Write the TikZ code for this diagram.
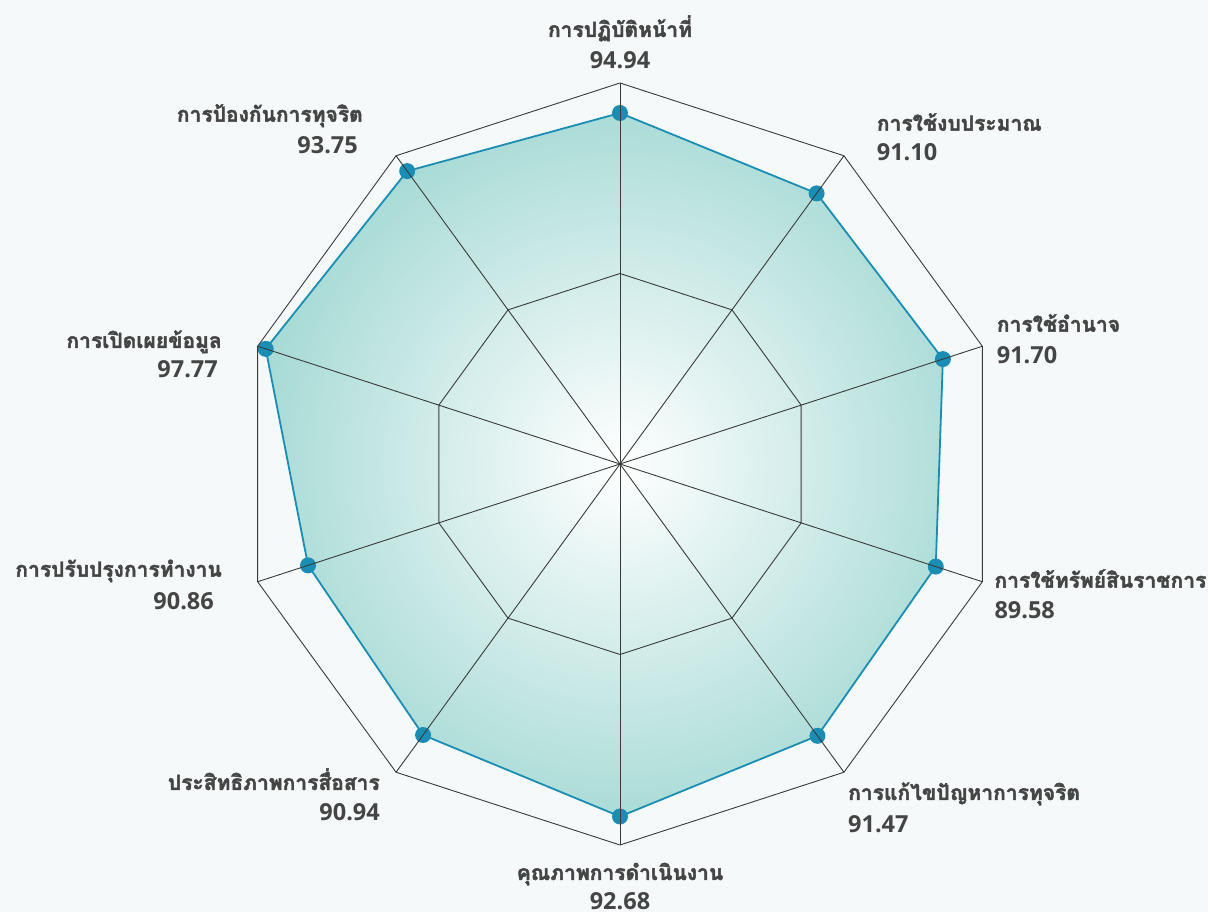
\documentclass[tikz,border=0pt]{standalone}
\usepackage{fontspec}
\usepackage{tikz}
\usepackage{xcolor}
\usetikzlibrary{calc}
\newfontfamily\thaifont[Script=Thai, BoldFeatures={FakeBold=2}]{Loma}
\newfontfamily\numfont{Open Sans}
\definecolor{pagebg}{HTML}{F5F9F9}
\definecolor{areateal}{HTML}{A6DAD5}
\definecolor{seriesblue}{HTML}{1A8DB4}
\definecolor{gridgrey}{HTML}{3A3A3A}
\definecolor{labelgrey}{HTML}{454545}
\pgfdeclareradialshading{areashade}{\pgfpoint{0bp}{0bp}}{color(0bp)=(white); color(25bp)=(areateal); color(50bp)=(areateal)}
\tikzstyle{gridline} = [draw=gridgrey, line width=0.9pt]
\tikzstyle{seriesline} = [draw=seriesblue, line width=1.8pt, line join=round]
\tikzstyle{dot} = [circle, fill=seriesblue, inner sep=0pt, minimum size=16pt]
\tikzstyle{axislabel} = [font=\thaifont\bfseries\fontsize{21}{25}\selectfont, text=labelgrey, inner sep=0pt]
\tikzstyle{axisvalue} = [font=\numfont\bfseries\fontsize{23.5}{27}\selectfont, text=labelgrey, inner sep=0pt]

\begin{document}
\begin{tikzpicture}[x=1pt,y=1pt]
  \useasboundingbox (-620,-448) rectangle (588,464);
  \fill[pagebg] (-620,-448) rectangle (588,464);

  % grid corners
  \coordinate (c) at (0,0);
  \coordinate (o1) at (90:381);
  \coordinate (o2) at (54:381);
  \coordinate (o3) at (18:381);
  \coordinate (o4) at (-18:381);
  \coordinate (o5) at (-54:381);
  \coordinate (o6) at (-90:381);
  \coordinate (o7) at (-126:381);
  \coordinate (o8) at (-162:381);
  \coordinate (o9) at (162:381);
  \coordinate (o10) at (126:381);

  % data points
  \coordinate (v1) at (90:351);
  \coordinate (v2) at (54:334.5);
  \coordinate (v3) at (18:339.5);
  \coordinate (v4) at (-18:332);
  \coordinate (v5) at (-54:336);
  \coordinate (v6) at (-90:352.5);
  \coordinate (v7) at (-126:335);
  \coordinate (v8) at (-162:328);
  \coordinate (v9) at (162:372.5);
  \coordinate (v10) at (126:362);

  \begin{scope}
    \clip (v1) -- (v2) -- (v3) -- (v4) -- (v5) -- (v6) -- (v7) -- (v8) -- (v9) -- (v10) -- cycle;
    \shade[shading=areashade] (c) circle (370);
  \end{scope}
  \path[seriesline] (v1) -- (v2) -- (v3) -- (v4) -- (v5) -- (v6) -- (v7) -- (v8) -- (v9) -- (v10) -- cycle;

  \node[dot] (d1) at (v1) {};
  \node[dot] (d2) at (v2) {};
  \node[dot] (d3) at (v3) {};
  \node[dot] (d4) at (v4) {};
  \node[dot] (d5) at (v5) {};
  \node[dot] (d6) at (v6) {};
  \node[dot] (d7) at (v7) {};
  \node[dot] (d8) at (v8) {};
  \node[dot] (d9) at (v9) {};
  \node[dot] (d10) at (v10) {};

  % rings and spokes
  \path[gridline] (o1) -- (o2) -- (o3) -- (o4) -- (o5) -- (o6) -- (o7) -- (o8) -- (o9) -- (o10) -- cycle;
  \path[gridline] ($(c)!0.5!(o1)$) -- ($(c)!0.5!(o2)$) -- ($(c)!0.5!(o3)$) -- ($(c)!0.5!(o4)$) -- ($(c)!0.5!(o5)$)
    -- ($(c)!0.5!(o6)$) -- ($(c)!0.5!(o7)$) -- ($(c)!0.5!(o8)$) -- ($(c)!0.5!(o9)$) -- ($(c)!0.5!(o10)$) -- cycle;
  \path[gridline] (c) -- (o1);
  \path[gridline] (c) -- (o2);
  \path[gridline] (c) -- (o3);
  \path[gridline] (c) -- (o4);
  \path[gridline] (c) -- (o5);
  \path[gridline] (c) -- (o6);
  \path[gridline] (c) -- (o7);
  \path[gridline] (c) -- (o8);
  \path[gridline] (c) -- (o9);
  \path[gridline] (c) -- (o10);

  % labels
  \node[axislabel, anchor=base] (l1) at (0,427) {การปฏิบัติหน้าที่};
  \node[axisvalue, anchor=base] (n1) at (0,395) {94.94};
  \node[axislabel, anchor=base west] (l2) at (256.7,333.3) {การใช้งบประมาณ};
  \node[axisvalue, anchor=base west] (n2) at (256.7,303) {91.10};
  \node[axislabel, anchor=base west] (l3) at (376.7,132.3) {การใช้อำนาจ};
  \node[axisvalue, anchor=base west] (n3) at (376.7,100.7) {91.70};
  \node[axislabel, anchor=base west] (l4) at (374.3,-123.7) {การใช้ทรัพย์สินราชการ};
  \node[axisvalue, anchor=base west] (n4) at (374.3,-155) {89.58};
  \node[axislabel, anchor=base west] (l5) at (228,-336) {การแก้ไขปัญหาการทุจริต};
  \node[axisvalue, anchor=base west] (n5) at (228,-369) {91.47};
  \node[axislabel, anchor=base] (l6) at (0,-416) {คุณภาพการดำเนินงาน};
  \node[axisvalue, anchor=base] (n6) at (0,-446) {92.68};
  \node[axislabel, anchor=base east] (l7) at (-240,-326) {ประสิทธิภาพการสื่อสาร};
  \node[axisvalue, anchor=base east] (n7) at (-240,-357) {90.94};
  \node[axislabel, anchor=base east] (l8) at (-398,-112.7) {การปรับปรุงการทำงาน};
  \node[axisvalue, anchor=base east] (n8) at (-406,-145.3) {90.86};
  \node[axislabel, anchor=base east] (l9) at (-398,116) {การเปิดเผยข้อมูล};
  \node[axisvalue, anchor=base east] (n9) at (-402,86) {97.77};
  \node[axislabel, anchor=base east] (l10) at (-257,342.3) {การป้องกันการทุจริต};
  \node[axisvalue, anchor=base east] (n10) at (-262,310.7) {93.75};
\end{tikzpicture}
\end{document}
